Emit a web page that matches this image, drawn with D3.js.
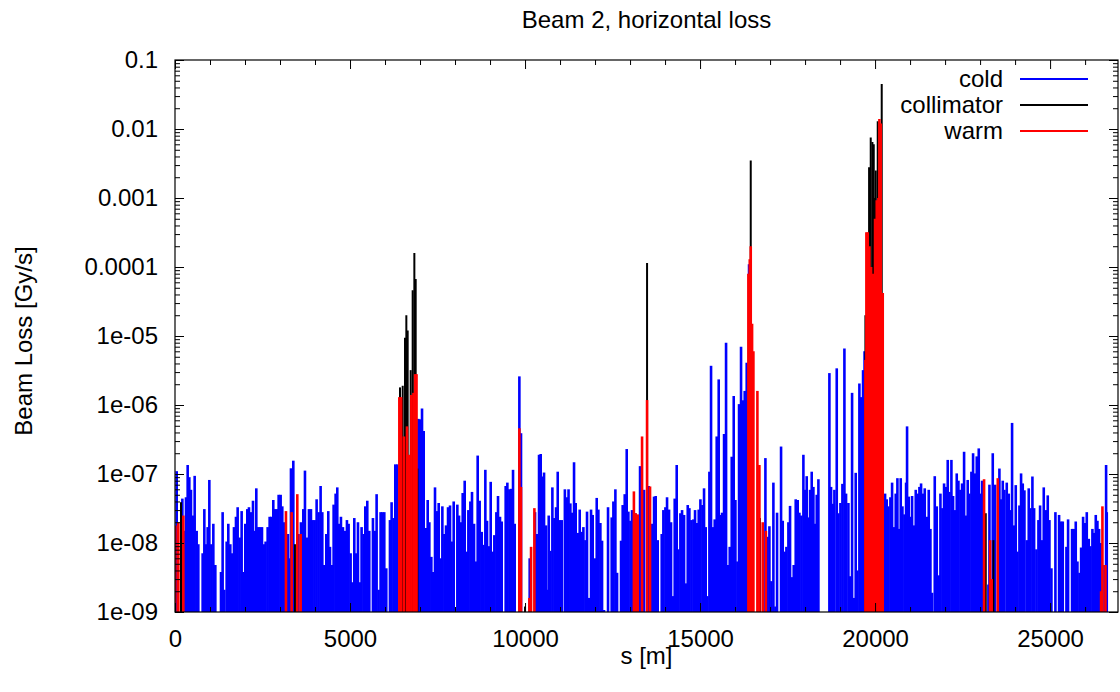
<!DOCTYPE html>
<html>
<head>
<meta charset="utf-8">
<script src="https://d3js.org/d3.v7.min.js"></script>
<style>
  body { margin: 0; background: #fff; }
  svg { font-family: "Liberation Sans", Arial, sans-serif; }
</style>
</head>
<body>
<div id="chart"></div>
<script>
// Beam 2, horizontal loss -- impulses on a log axis, [s in m, loss in Gy/s]

var cold = [
  [48,1.1e-7],[210,4.4e-8],[267,1.5e-8],[314,4.6e-8],[362,1.35e-7],[409,9e-8],[457,5.9e-8],[505,2.5e-8],
  [562,9.4e-8],[619,1.5e-8],[666,9.6e-9],[790,7.1e-9],[838,3.1e-8],[885,9.6e-9],[933,1.7e-8],[981,8.2e-8],
  [1038,9.6e-9],[1095,1.9e-8],[1152,4.8e-9],[1314,3.8e-9],[1361,2.8e-8],[1409,2.1e-9],[1476,1.05e-8],
  [1523,1.9e-8],[1580,9.6e-9],[1637,7.1e-9],[1685,1.7e-8],[1742,2.4e-8],[1790,3.3e-8],[1847,1.2e-8],
  [1904,2.9e-8],[1952,3.8e-9],[2009,1.9e-8],[2066,3.1e-8],[2113,3.3e-8],[2171,2.8e-8],[2228,4.1e-8],
  [2275,1.5e-8],[2323,6.2e-8],[2380,1.7e-8],[2428,1.7e-8],[2485,1.7e-8],[2542,9.6e-9],[2589,1.05e-8],
  [2647,1.7e-8],[2704,2.4e-8],[2751,2.4e-8],[2808,4.2e-8],[2856,3.1e-8],[2913,3.1e-8],[2961,5.0e-8],
  [3018,5.0e-8],[3065,3.4e-8],[3123,2.0e-8],[3227,1.35e-8],[3265,6.0e-9],[3313,1.21e-7],[3380,1.56e-7],
  [3523,1.35e-8],[3598,2.0e-8],[3665,3.1e-8],[3713,1.12e-7],[3770,1.2e-8],[3827,3.1e-8],[3884,3.1e-8],
  [3932,2.15e-8],[3989,2.15e-8],[4046,4.3e-8],[4103,2.8e-8],[4160,6.7e-8],[4208,2.8e-8],[4265,4.8e-9],
  [4322,1.35e-8],[4379,2.9e-8],[4427,8.8e-9],[4484,4.8e-9],[4532,3.6e-8],[4589,5.2e-8],[4636,6.4e-8],
  [4693,1.9e-8],[4741,2.4e-8],[4798,1.7e-8],[4855,1.5e-8],[4912,2.15e-8],[4960,1.9e-8],[5017,7.1e-9],
  [5065,2.7e-9],[5122,2.3e-8],[5169,7.1e-9],[5227,2.0e-8],[5284,2.7e-9],[5331,1.7e-8],[5388,1.35e-8],
  [5436,3.4e-8],[5493,4.1e-8],[5550,1.5e-8],[5655,2.3e-8],[5712,1.5e-8],[5760,5.1e-8],[5817,2.1e-9],
  [5874,2.8e-8],[5922,2.8e-8],[5979,2.8e-8],[6036,4.3e-9],[6141,2.15e-8],[6188,3.9e-8],[6245,2.3e-8],
  [6293,1.38e-7],[6350,1.38e-7],
  [6952,6.3e-7],[7000,6.2e-7],[7057,8.9e-7],[7105,4.2e-7],[7162,1.65e-8],[7219,4.2e-8],[7266,2.0e-8],
  [7323,6.3e-9],[7371,3.8e-9],[7428,6.4e-8],[7485,2.9e-8],[7533,3.8e-8],[7590,6.0e-9],[7638,3.4e-8],
  [7695,1.35e-8],[7743,1.8e-8],[7800,3.3e-8],[7857,3.5e-8],[7904,1.05e-8],[7962,4.0e-8],[8009,1.1e-9],
  [8066,3.6e-8],[8114,2.5e-8],[8171,2.0e-8],[8219,5.3e-8],[8276,8.0e-8],[8333,7.5e-9],[8381,3.0e-8],
  [8438,4.0e-8],[8485,5.5e-8],[8543,1.9e-8],[8600,5.4e-9],[8647,1.85e-7],[8704,4.1e-8],[8762,1.45e-8],
  [8809,9.4e-9],[8866,1.15e-7],[8914,2.1e-8],[8971,9.0e-9],[9019,7.7e-8],[9076,7.5e-9],[9123,1.3e-8],
  [9181,2.8e-8],[9228,4.8e-8],[9285,2.4e-8],[9333,2.05e-8],[9447,6.7e-8],[9495,7.5e-8],[9552,6.0e-8],
  [9600,6.1e-8],[9657,1.15e-7],[9704,1.9e-8],[9838,2.6e-6],[9885,3.9e-7],[10133,6e-9],[10286,2.8e-8],
  [10343,1.35e-8],[10400,1.9e-7],[10448,1.95e-7],[10496,9.2e-8],[10543,1.05e-7],[10600,1.8e-8],
  [10648,2.1e-9],[10677,2.5e-8],[10724,7.7e-9],[10781,6.4e-8],[10838,2.3e-8],[10886,3.3e-8],
  [10934,1.08e-7],[10991,2.15e-8],[11048,2.15e-8],[11138,6.0e-8],[11195,4.6e-8],[11243,6.0e-8],
  [11295,3.75e-8],[11343,2.75e-8],[11400,1.48e-7],[11448,3.8e-8],[11505,1.4e-8],[11562,3.05e-8],
  [11619,1.45e-8],[11667,1.7e-8],[11724,1.1e-8],[11771,2.85e-8],[11829,1.6e-9],[11886,3.05e-8],
  [11933,2.55e-8],[11990,6e-9],[12048,4.5e-8],[12095,3.05e-8],[12152,1.95e-8],[12200,1.08e-8],
  [12257,1.07e-9],[12371,3.3e-8],[12476,2.35e-8],[12524,4.0e-8],[12581,6.0e-8],[12629,3.7e-9],
  [12743,1.08e-8],[12790,3.55e-8],[12848,5.1e-8],[12905,2.3e-7],[12952,2.85e-8],[13010,2.1e-8],
  [13057,3.0e-8],[13152,2.7e-8],[13286,1.3e-7],[13400,5.9e-8],[13533,6.7e-8],[13629,1.9e-8],
  [13686,4.7e-8],[13733,4.8e-8],[13790,1.1e-8],[13905,1.35e-8],[13952,3.0e-8],[14010,3.3e-8],
  [14057,4.6e-8],[14114,3.05e-8],[14171,2.0e-8],[14219,1.7e-9],[14276,4.4e-8],[14333,1.35e-7],
  [14381,8.1e-9],[14438,2.7e-8],[14486,3.0e-8],[14543,2.55e-8],[14590,2.6e-9],[14648,3.55e-8],
  [14695,3.2e-8],[14752,2.15e-8],[14810,2.2e-8],[14857,3.0e-8],[14905,1.95e-8],[14962,3.05e-8],
  [15010,4.3e-8],[15067,3.55e-8],[15114,6.2e-8],[15162,1.7e-8],[15210,1.7e-9],[15267,1.08e-7],
  [15314,3.7e-6],[15371,1.7e-8],[15419,2.2e-8],[15476,3.5e-7],[15533,2.35e-6],[15581,2.55e-8],
  [15629,2.75e-8],[15686,3.8e-7],[15743,8e-6],[15800,4.8e-9],[15848,8.8e-9],[15905,1.78e-7],
  [15962,1.35e-6],[16010,4.2e-8],[16067,5.4e-9],[16114,1.03e-6],[16171,7.0e-6],[16219,1.17e-6],
  [16276,1.6e-6],[16333,4.1e-6],[16400,1.1e-4],[16867,1.7e-7],[16924,1.23e-8],[16981,1.75e-8],
  [17038,2.8e-9],[17095,7.5e-8],[17152,1.2e-9],[17200,2.75e-8],[17314,2.5e-7],[17362,2.1e-8],
  [17419,7.5e-9],[17467,8.8e-9],[17524,2.0e-8],[17571,3.45e-8],[17629,3.2e-9],[17676,4.8e-9],
  [17733,4.3e-8],[17790,4.2e-8],[17838,2.75e-8],[17895,2.5e-8],[17952,1.9e-7],[18000,5.9e-8],
  [18047,9.3e-8],[18095,2.35e-8],[18143,5.9e-8],[18190,1.08e-7],[18238,6.5e-8],[18286,1.9e-8],
  [18333,5e-8],[18381,8.4e-8],[18695,2.9e-6],[18743,6.5e-8],[18790,3.7e-8],[18838,5.9e-8],
  [18905,3.4e-6],[18952,2.7e-8],[19010,3.8e-8],[19067,7.2e-8],[19124,6.6e-6],[19171,5.2e-8],
  [19238,3.8e-8],[19286,3.3e-9],[19343,1.5e-6],[19390,1.6e-9],[19447,1.04e-7],[19495,4e-9],
  [19552,2.05e-6],[19600,1.3e-6],[19657,3.2e-6],[19700,6e-6],
  [20286,5.2e-8],[20333,4.3e-8],[20381,3.4e-8],[20438,4.6e-8],[20486,7.5e-8],[20543,1.7e-8],
  [20590,5.2e-8],[20638,8.7e-8],[20686,1.6e-8],[20733,8.7e-8],[20781,3.4e-8],[20838,2.6e-8],
  [20886,7.5e-8],[20914,4.9e-7],[20962,4.7e-8],[21010,2.4e-8],[21057,4.8e-8],[21114,1.8e-8],
  [21162,5.9e-8],[21219,5.2e-8],[21267,6.5e-8],[21314,7.3e-8],[21371,5.2e-8],[21419,6.2e-8],
  [21476,2.4e-8],[21533,5.9e-8],[21581,1.6e-8],[21628,1.9e-9],[21705,9.3e-8],[21762,3.4e-8],
  [21819,3.4e-9],[21867,5.2e-8],[21924,3.2e-8],[21971,7.3e-8],[22019,6.5e-8],[22076,1.6e-7],
  [22124,5.5e-8],[22181,1.6e-7],[22228,4.8e-8],[22276,3.0e-8],[22333,1.02e-7],[22381,8.0e-8],
  [22438,5.9e-8],[22486,7.3e-8],[22543,2.1e-7],[22590,2.5e-8],[22647,8.2e-8],[22695,5.2e-8],
  [22752,1.08e-7],[22800,2.0e-7],[22857,1.02e-7],[22905,1.8e-7],[22962,2.35e-7],[23010,5.2e-8],
  [23057,8e-8],[23238,2.5e-9],[23267,7e-8],[23362,2e-7],[23429,7e-8],[23552,1.2e-7],[23600,4.3e-8],
  [23648,8e-8],[23695,5.9e-8],[23762,7.5e-8],[23819,5.2e-8],
  [23857,3.0e-8],[23914,5.5e-7],[23962,1.8e-8],[24019,6.9e-8],[24067,7.5e-9],[24124,3.5e-8],
  [24171,1.02e-7],[24219,7.3e-8],[24267,5.8e-8],[24333,1.1e-8],[24390,6.2e-8],[24438,3.2e-8],
  [24495,9.2e-8],[24543,3.2e-8],[24609,8.1e-9],[24667,2.15e-8],[24714,3.5e-8],[24771,1.1e-8],
  [24819,6.4e-8],[24876,3.0e-8],[24933,4.9e-8],[24981,2.15e-8],[25038,4.3e-9],[25152,2.8e-8],
  [25257,2.55e-8],[25314,2.05e-8],[25362,2.05e-8],[25467,8.8e-9],[25514,2.2e-8],[25628,1.6e-8],
  [25676,1.6e-8],[25733,2.05e-8],[25781,5.4e-9],[25838,3.7e-9],[25886,8.6e-9],[25943,2.4e-8],
  [25990,1.95e-8],[26048,2.8e-8],[26105,1.15e-8],[26152,9.0e-9],[26209,1.6e-8],[26257,1.4e-8],
  [26305,2.55e-8],[26352,2.1e-8],[26400,1.6e-8],[26448,1.0e-8],[26552,4.8e-9],[26600,1.35e-7],
  [26619,2.8e-8]
];

var collimator = [
  [171,3.9e-8],[3427,9.6e-9],
  [6428,1.8e-6],[6505,1.9e-6],[6571,9.4e-6],[6609,2.0e-5],[6647,1.2e-5],[6733,3.2e-6],
  [6790,4.6e-5],[6838,1.6e-4],[6876,6.7e-5],[6924,1.2e-7],
  [10000,1.2e-9],[13486,1.14e-4],
  [16420,2e-5],[16448,3.5e-3],[16710,2.3e-8],
  [19724,2e-5],[19790,1.4e-4],[19829,2.8e-3],[19876,7.5e-3],[19924,6.5e-3],[19962,6.0e-3],
  [20000,1.0e-3],[20019,2.5e-3],[20076,1.3e-2],[20190,4.5e-2],
  [23162,2.7e-8],[23381,1.1e-8]
];

var warm = [
  [10,1.8e-8],[95,2.0e-8],[238,2.5e-8],[3170,2.9e-8],[3332,2.8e-8],[3494,5.1e-8],[3589,1.35e-8],
  [6409,1.3e-6],[6460,1.3e-6],[6540,3.5e-7],[6628,4.9e-7],[6690,1.9e-7],[6752,1.4e-6],
  [6812,1.5e-6],[6860,2.8e-6],[6900,2.8e-6],
  [9838,4.6e-7],[9885,6.5e-8],[10124,1.6e-9],[10172,8.8e-9],[10267,3.2e-8],
  [13110,5.6e-8],[13160,2.7e-8],[13220,2.6e-8],[13343,3.5e-7],[13486,1.18e-6],[13571,6.6e-8],
  [16381,8e-5],[16420,1.3e-4],[16448,2.0e-4],[16486,1.5e-5],[16524,6e-6],[16638,1.6e-6],
  [16695,1.35e-7],[16790,2e-8],[16880,1.5e-8],
  [19724,4.5e-6],[19752,3.2e-4],[19790,3.2e-4],[19838,2.0e-4],[19886,1.0e-4],[19943,8e-5],
  [20000,5e-4],[20048,9.3e-4],[20095,1.0e-3],[20124,1.4e-2],[20162,1.2e-2],[20219,4.2e-5],
  [23114,8.4e-8],[23286,1.1e-8],[23330,3e-9],[23505,8.7e-8],
  [26457,2e-9],[26495,3.4e-8],[26581,4.8e-9]
];

var series = [
  {name: "cold", data: cold, color: "#0000ff", width: 2.6},
  {name: "collimator", data: collimator, color: "#000000", width: 2},
  {name: "warm", data: warm, color: "#ff0000", width: 2.6}
];

var xTicks = [0, 5000, 10000, 15000, 20000, 25000];
var yTicks = [1e-9, 1e-8, 1e-7, 1e-6, 1e-5, 1e-4, 1e-3, 1e-2, 1e-1];
var yTickLabels = ["1e-09", "1e-08", "1e-07", "1e-06", "1e-05", "0.0001", "0.001", "0.01", "0.1"];

var W = 1120, H = 692;
var box = { left: 175, right: 1118, top: 60, bottom: 612 };

var svg = d3.select("#chart").append("svg")
  .attr("width", W)
  .attr("height", H);

var x = d3.scaleLinear().domain([0, 26940]).range([box.left, box.right]);
var y = d3.scaleLog().domain([1e-9, 0.1]).range([box.bottom, box.top]);

// minor ticks
var xMinor = d3.range(0, 27000, 1000).filter(function(d) { return d % 5000 != 0; });
var yMinor = [];
yTicks.slice(0, -1).forEach(function(d) {
  for (var k = 2; k < 10; k++) yMinor.push(d * k);
});

// impulses, clipped to the plot box
svg.append("clipPath").attr("id", "clipbox")
  .append("rect").attr("x", box.left).attr("y", box.top)
  .attr("width", box.right - box.left).attr("height", box.bottom - box.top);

var plot = svg.append("g").attr("clip-path", "url(#clipbox)");

series.forEach(function(s) {
  plot.append("g")
    .selectAll("line")
    .data(s.data)
    .enter().append("line")
      .attr("x1", function(d) { return x(d[0]); })
      .attr("x2", function(d) { return x(d[0]); })
      .attr("y1", y(1e-9))
      .attr("y2", function(d) { return y(d[1]); })
      .attr("stroke", s.color)
      .attr("stroke-width", s.width);
});

// axes
function style(g) {
  g.select(".domain").remove();
  g.selectAll(".tick line").attr("stroke", "#000");
  g.selectAll("text").attr("fill", "#000").style("font-size", "24px");
}

svg.append("g").attr("transform", "translate(0," + box.bottom + ")")
  .call(d3.axisBottom(x).tickValues(xTicks).tickSize(-9).tickPadding(18).tickFormat(d3.format("d")))
  .call(style);
svg.append("g").attr("transform", "translate(0," + box.bottom + ")")
  .call(d3.axisBottom(x).tickValues(xMinor).tickSize(-5).tickFormat(""))
  .call(style);
svg.append("g").attr("transform", "translate(0," + box.top + ")")
  .call(d3.axisTop(x).tickValues(xTicks).tickSize(-9).tickFormat(""))
  .call(style);
svg.append("g").attr("transform", "translate(0," + box.top + ")")
  .call(d3.axisTop(x).tickValues(xMinor).tickSize(-5).tickFormat(""))
  .call(style);

svg.append("g").attr("transform", "translate(" + box.left + ",0)")
  .call(d3.axisLeft(y).tickValues(yTicks).tickSize(-9).tickPadding(17)
    .tickFormat(function(d, i) { return yTickLabels[i]; }))
  .call(style);
svg.append("g").attr("transform", "translate(" + box.left + ",0)")
  .call(d3.axisLeft(y).tickValues(yMinor).tickSize(-5).tickFormat(""))
  .call(style);
svg.append("g").attr("transform", "translate(" + box.right + ",0)")
  .call(d3.axisRight(y).tickValues(yTicks).tickSize(-9).tickFormat(""))
  .call(style);
svg.append("g").attr("transform", "translate(" + box.right + ",0)")
  .call(d3.axisRight(y).tickValues(yMinor).tickSize(-5).tickFormat(""))
  .call(style);

svg.append("rect")
  .attr("x", box.left).attr("y", box.top)
  .attr("width", box.right - box.left).attr("height", box.bottom - box.top)
  .attr("fill", "none").attr("stroke", "#000").attr("stroke-width", 1.2);

// labels
svg.append("text")
  .attr("x", (box.left + box.right) / 2).attr("y", 28)
  .attr("text-anchor", "middle").style("font-size", "24px")
  .text("Beam 2, horizontal loss");

svg.append("text")
  .attr("x", (box.left + box.right) / 2).attr("y", 664)
  .attr("text-anchor", "middle").style("font-size", "24px")
  .text("s [m]");

svg.append("text")
  .attr("transform", "translate(32,341) rotate(-90)")
  .attr("text-anchor", "middle").style("font-size", "24px")
  .text("Beam Loss [Gy/s]");

// legend
var legend = svg.append("g");
series.forEach(function(s, i) {
  var ly = 79 + i * 26;
  legend.append("text")
    .attr("x", 1003).attr("y", ly + 8)
    .attr("text-anchor", "end").style("font-size", "24px")
    .text(s.name);
  legend.append("line")
    .attr("x1", 1020).attr("x2", 1088)
    .attr("y1", ly).attr("y2", ly)
    .attr("stroke", s.color).attr("stroke-width", 2);
});
</script>
</body>
</html>
